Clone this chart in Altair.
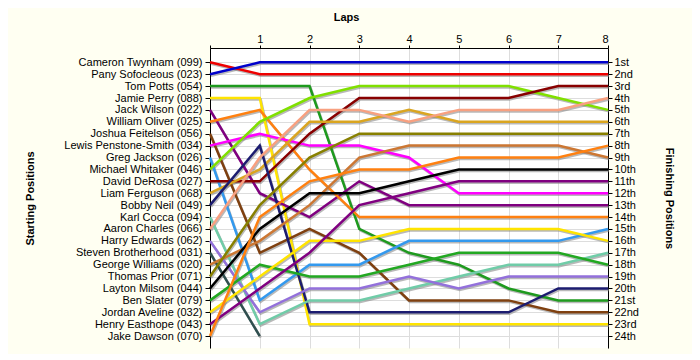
import altair as alt
import pandas as pd

laps = [0, 1, 2, 3, 4, 5, 6, 7, 8]

drivers = [
    "Cameron Twynham (099)", "Pany Sofocleous (023)", "Tom Potts (054)", "Jamie Perry (088)",
    "Jack Wilson (022)", "William Oliver (025)", "Joshua Feitelson (056)", "Lewis Penstone-Smith (034)",
    "Greg Jackson (026)", "Michael Whitaker (046)", "David DeRosa (027)", "Liam Ferguson (068)",
    "Bobby Neil (049)", "Karl Cocca (094)", "Aaron Charles (066)", "Harry Edwards (062)",
    "Steven Brotherhood (031)", "George Williams (020)", "Thomas Prior (071)", "Layton Milsom (044)",
    "Ben Slater (079)", "Jordan Aveline (032)", "Henry Easthope (043)", "Jake Dawson (070)",
]

colors = [
    "#EE0000", "#0000CC", "#1E9A1E", "#FFE400",
    "#800080", "#FF8010", "#7F4010", "#FF00FF",
    "#3399EE", "#80E000", "#880000", "#DAA520",
    "#1C1C70", "#70CCA8", "#F8A080", "#9370DB",
    "#2F4F4F", "#CC7733", "#888000", "#000000",
    "#22A822", "#FFE400", "#800080", "#FF8010",
]

# position of each driver at the end of each lap (lap 0 = grid); None = retired
p_cameron = [1, 2, 2, 2, 2, 2, 2, 2, 2]
p_pany = [2, 1, 1, 1, 1, 1, 1, 1, 1]
p_tom = [3, 3, 3, 15, 17, 18, 20, 21, 21]
p_jamie = [4, 4, 23, 23, 23, 23, 23, 23, 23]
p_jack = [5, 12, 14, 11, 13, 13, 13, 13, 13]
p_william = [6, 5, 10, 14, 14, 14, 14, 14, 14]
p_joshua = [7, 17, 15, 17, 21, 21, 21, 22, 22]
p_lewis = [8, 7, 8, 8, 9, 12, 12, 12, 12]
p_greg = [9, 21, 18, 18, 16, 16, 16, 16, 15]
p_michael = [10, 6, 4, 3, 3, 3, 3, 4, 5]
p_david = [11, 11, 7, 4, 4, 4, 4, 3, 3]
p_liam = [12, 10, 6, 6, 5, 6, 6, 6, 6]
p_bobby = [13, 8, 22, 22, 22, 22, 22, 20, 20]
p_karl = [14, 23, 21, 21, 20, 19, 18, 18, 17]
p_aaron = [15, 9, 5, 5, 6, 5, 5, 5, 4]
p_harry = [16, 22, 20, 20, 19, 20, 19, 19, 19]
p_steven = [17, 24, None, None, None, None, None, None, None]
p_george = [18, 16, 13, 9, 8, 8, 8, 8, 9]
p_thomas = [19, 13, 9, 7, 7, 7, 7, 7, 7]
p_layton = [20, 15, 12, 12, 11, 10, 10, 10, 10]
p_ben = [21, 18, 19, 19, 18, 17, 17, 17, 18]
p_jordan = [22, 19, 16, 16, 15, 15, 15, 15, 16]
p_henry = [23, 20, 17, 13, 12, 11, 11, 11, 11]
p_jake = [24, 14, 11, 10, 10, 9, 9, 9, 8]

finish_labels = ["1st", "2nd", "3rd", "4th", "5th", "6th", "7th", "8th", "9th", "10th",
                 "11th", "12th", "13th", "14th", "15th", "16th", "17th", "18th", "19th",
                 "20th", "21st", "22nd", "23rd", "24th"]

series = [p_cameron, p_pany, p_tom, p_jamie, p_jack, p_william, p_joshua, p_lewis,
          p_greg, p_michael, p_david, p_liam, p_bobby, p_karl, p_aaron, p_harry,
          p_steven, p_george, p_thomas, p_layton, p_ben, p_jordan, p_henry, p_jake]

rows = []
for d, s in zip(drivers, series):
    for lap, p in zip(laps, s):
        if p is not None:
            rows.append({"driver": d, "lap": lap, "pos": p})
df = pd.DataFrame(rows)

FONT = "Liberation Sans"
positions = list(range(1, 25))

left_expr = "[" + ",".join("'" + d + "'" for d in drivers) + "][datum.value - 1]"
right_expr = "[" + ",".join("'" + f + "'" for f in finish_labels) + "][datum.value - 1]"

x_enc = alt.X(
    "lap:Q",
    scale=alt.Scale(domain=[0, 8], nice=False, zero=False),
    axis=alt.Axis(
        orient="top", values=laps, labelExpr="datum.value == 0 ? '' : datum.value",
        title="Laps", titleFont=FONT, titleFontSize=11, titleFontWeight="bold",
        titleX=136, titleY=-31, titleAlign="center", titleBaseline="middle",
        labelFont=FONT, labelFontSize=11, labelColor="#000000",
        tickSize=3, tickColor="#000000", domainColor="#000000", labelPadding=1,
        grid=True, gridColor="#DDDDDD", gridWidth=1,
    ),
)

y_scale = alt.Scale(domain=[-0.2, 25], reverse=True, nice=False, zero=False)

left_axis = alt.Axis(
    orient="left", values=positions, labelExpr=left_expr,
    title="Starting Positions", titleFont=FONT, titleFontSize=11, titleFontWeight="bold",
    titleX=-180, titleY=150, titleAngle=270, titleAlign="center", titleBaseline="middle",
    labelFont=FONT, labelFontSize=11, labelColor="#000000", labelPadding=3,
    tickSize=5, tickColor="#000000", domainColor="#000000",
    grid=True, gridColor="#DDDDDD", gridWidth=1,
)

right_axis = alt.Axis(
    orient="right", values=positions, labelExpr=right_expr,
    title="Finishing Positions", titleFont=FONT, titleFontSize=11, titleFontWeight="bold",
    titleX=60, titleY=150, titleAngle=90, titleAlign="center", titleBaseline="middle",
    labelFont=FONT, labelFontSize=11, labelColor="#000000", labelPadding=2,
    tickSize=4, tickColor="#000000", domainColor="#000000", grid=False,
)

color_enc = alt.Color("driver:N", scale=alt.Scale(domain=drivers, range=colors), legend=None)

base = alt.Chart(df)

shadow = base.mark_line(strokeWidth=2.5, color="#808080", opacity=0.55, xOffset=1, yOffset=1.5).encode(
    x=x_enc,
    y=alt.Y("pos:Q", scale=y_scale, axis=left_axis),
    detail="driver:N",
)

lines = base.mark_line(strokeWidth=2.5).encode(
    x=x_enc,
    y=alt.Y("pos:Q", scale=y_scale, axis=right_axis),
    color=color_enc,
)

chart = alt.layer(shadow, lines).resolve_axis(y="independent").properties(
    width=398,
    height=300,
    autosize=alt.AutoSizeParams(type="none"),
    padding={"left": 202, "top": 40, "right": 84, "bottom": 6},
    background="#FFFFF2",
).configure_view(fill="#FFFFFF", stroke=None)

chart.save("out.html", embed_options={"renderer": "svg", "actions": False})
